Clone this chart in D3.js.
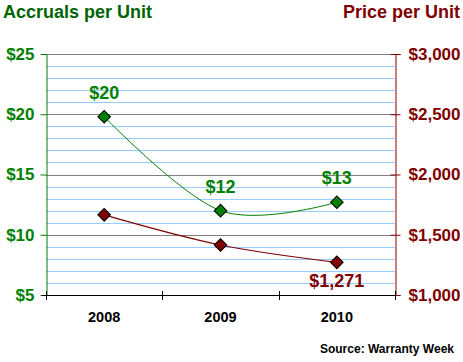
<!DOCTYPE html>
<html>
<head>
<meta charset="utf-8">
<script src="https://cdn.jsdelivr.net/npm/d3@7"></script>
<style>
body{margin:0;background:#fff;}
text{font-family:Arial,"Liberation Sans",sans-serif;font-weight:bold;}
</style>
</head>
<body>
<div id="chart"></div>
<script>
var years=["2008","2009","2010"];
var accruals=[19.8,12.0,12.7];
var prices=[1665,1415,1271];
var accrualLabels=["$20","$12","$13"];
var priceLabels=["","","$1,271"];
var leftTicks=[5,10,15,20,25];
var rightTicks=[1000,1500,2000,2500,3000];

var W=463,H=362;
var pLeft=46,pRight=395,pTop=54,pBottom=295;
var green="#008000",dkgreen="#006400",red="#800000";
var ff="Arial,'Liberation Sans',sans-serif";

var svg=d3.select("#chart").append("svg").attr("width",W).attr("height",H);

var x=d3.scaleBand().domain(years).range([pLeft,pRight]);
var yL=d3.scaleLinear().domain([5,25]).range([pBottom,pTop]);
var yR=d3.scaleLinear().domain([1000,3000]).range([pBottom,pTop]);

// minor grid every $1
var minor=d3.range(6,25).filter(function(v){return v%5!=0;});
svg.append("g").selectAll("line").data(minor).enter().append("line")
    .attr("x1",pLeft).attr("x2",pRight)
    .attr("y1",function(d){return Math.round(yL(d))+0.5;})
    .attr("y2",function(d){return Math.round(yL(d))+0.5;})
    .attr("stroke","#99ccff").attr("stroke-width",1);
svg.append("g").selectAll("line").data([10,15,20,25]).enter().append("line")
    .attr("x1",pLeft).attr("x2",pRight)
    .attr("y1",function(d){return Math.round(yL(d))+0.5;})
    .attr("y2",function(d){return Math.round(yL(d))+0.5;})
    .attr("stroke","#808080").attr("stroke-width",1);

// left axis
var gl=svg.append("g").attr("transform","translate("+(pLeft+0.5)+",0)")
    .call(d3.axisLeft(yL).tickValues(leftTicks).tickSize(5).tickPadding(7).tickFormat(function(d){return "$"+d;}));
gl.select(".domain").attr("stroke",green);
gl.selectAll(".tick line").attr("stroke",green).attr("x2",-6).attr("x1",0);
gl.selectAll("text").attr("fill",green).style("font-size","17px").style("font-family",ff);

// right axis
var gr=svg.append("g").attr("transform","translate("+(pRight+0.5)+",0)")
    .call(d3.axisRight(yR).tickValues(rightTicks).tickSize(5).tickPadding(8).tickFormat(function(d){return "$"+d3.format(",")(d);}));
gr.select(".domain").attr("stroke",red);
gr.selectAll(".tick line").attr("stroke",red).attr("x1",-5);
gr.selectAll("text").attr("fill",red).style("font-size","17px").style("font-family",ff);

// bottom axis
var boundaries=[pLeft,x("2009"),x("2010"),pRight];
svg.append("line").attr("x1",pLeft-4).attr("x2",pRight).attr("y1",pBottom+0.5).attr("y2",pBottom+0.5).attr("stroke","#000");
svg.append("g").selectAll("line").data(boundaries).enter().append("line")
    .attr("x1",function(d){return Math.round(d)+0.5;}).attr("x2",function(d){return Math.round(d)+0.5;})
    .attr("y1",pBottom-4).attr("y2",pBottom+5).attr("stroke","#000");
svg.append("g").selectAll("text").data(years).enter().append("text")
    .attr("x",function(d){return x(d)+x.bandwidth()/2;})
    .attr("y",322).attr("text-anchor","middle").style("font-size","14.5px").attr("fill","#000")
    .text(function(d){return d;});

// lines
var lineG=d3.line().x(function(d,i){return x(years[i])+x.bandwidth()/2;}).y(function(d){return yL(d);}).curve(d3.curveCatmullRom.alpha(0));
var lineR=d3.line().x(function(d,i){return x(years[i])+x.bandwidth()/2;}).y(function(d){return yR(d);}).curve(d3.curveCatmullRom.alpha(0));
svg.append("path").attr("d",lineG(accruals)).attr("fill","none").attr("stroke",green).attr("stroke-width",1);
svg.append("path").attr("d",lineR(prices)).attr("fill","none").attr("stroke",red).attr("stroke-width",1.2);

var diamond=d3.symbol().type(d3.symbolSquare).size(80);
svg.append("g").selectAll("path").data(accruals).enter().append("path")
    .attr("d",diamond)
    .attr("transform",function(d,i){return "translate("+(x(years[i])+x.bandwidth()/2)+","+yL(d)+") rotate(45)";})
    .attr("fill",green).attr("stroke","#000").attr("stroke-width",1);
svg.append("g").selectAll("path").data(prices).enter().append("path")
    .attr("d",diamond)
    .attr("transform",function(d,i){return "translate("+(x(years[i])+x.bandwidth()/2)+","+yR(d)+") rotate(45)";})
    .attr("fill",red).attr("stroke","#000").attr("stroke-width",1);

// value labels
svg.append("g").selectAll("text").data(accruals).enter().append("text")
    .attr("x",function(d,i){return x(years[i])+x.bandwidth()/2;})
    .attr("y",function(d){return yL(d)-18;})
    .attr("text-anchor","middle").attr("fill",green).style("font-size","18px")
    .text(function(d,i){return accrualLabels[i];});
svg.append("g").selectAll("text").data(prices).enter().append("text")
    .attr("x",function(d,i){return x(years[i])+x.bandwidth()/2;})
    .attr("y",function(d){return yR(d)+25;})
    .attr("text-anchor","middle").attr("fill",red).style("font-size","18px")
    .text(function(d,i){return priceLabels[i];});

// titles
svg.append("text").attr("x",3).attr("y",18).attr("fill",dkgreen).style("font-size","18px").text("Accruals per Unit");
svg.append("text").attr("x",460).attr("y",18).attr("text-anchor","end").attr("fill",red).style("font-size","18px").text("Price per Unit");
svg.append("text").attr("x",454).attr("y",353).attr("text-anchor","end").attr("fill","#000").style("font-size","12px").text("Source: Warranty Week");
</script>
</body>
</html>
